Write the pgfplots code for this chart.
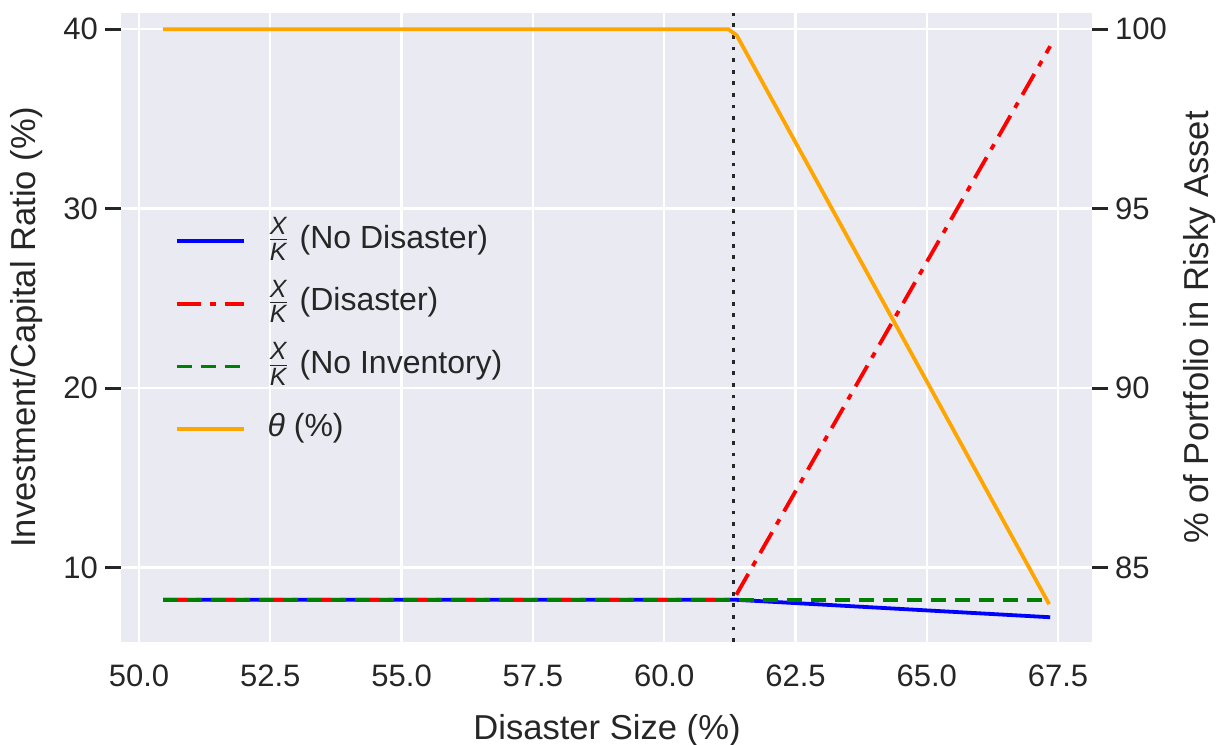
\documentclass[border=0pt]{standalone}
\usepackage{pgfplots}
\pgfplotsset{compat=1.18}
\usepackage{fontspec}
\setmainfont{Liberation Sans}
\definecolor{bg}{HTML}{EAEAF2}
\definecolor{txt}{HTML}{262626}
\definecolor{myorange}{RGB}{255,165,0}
\definecolor{mygreen}{RGB}{0,128,0}
\newcommand{\XK}{$\frac{\hbox{\fontsize{12.5}{12.5}\selectfont\itshape X}}{\hbox{\fontsize{12.5}{12.5}\selectfont\itshape K}}$\hspace{5.3pt}}

\pgfplotstableread{
x y
50.46 8.21
61.32 8.21
67.35 7.23
}\blue
\pgfplotstableread{
x y
50.46 8.21
61.32 8.21
67.35 39.05
}\red
\pgfplotstableread{
x y
50.46 8.21
61.32 8.21
67.35 8.21
}\green
\pgfplotstableread{
x y
50.46 100
61.22 100
61.38 99.83
67.33 83.98
}\orange

\begin{document}
\begin{tikzpicture}
\pgfplotsset{
  every axis/.append style={
    scale only axis, width=485.5pt, height=314.5pt,
    xmin=49.657, xmax=68.146,
    font=\fontsize{15.5}{18}\selectfont,
    /pgf/number format/assume math mode=true,
    tick label style={text=txt},
    axis line style={draw=none},
    tick align=outside,
    major tick length=8pt,
    ytick style={draw=txt, line width=1.5pt},
    xtick style={draw=none},
    clip=false,
  }
}
\begin{axis}[
  axis background/.style={fill=bg},
  ymin=5.85, ymax=40.9,
  ytick={10,20,30,40},
  xtick={50,52.5,55,57.5,60,62.5,65,67.5},
  xticklabel style={/pgf/number format/.cd, fixed, fixed zerofill, precision=1},
  grid=major,
  major grid style={white, line width=1.15pt},
  xlabel={Disaster Size (\%)},
  ylabel={Investment/Capital Ratio (\%)},
  every axis x label/.style={at={(axis description cs:0.5005,-0.14)}, anchor=center, font=\fontsize{17.3}{20}\selectfont, text=txt},
  every axis y label/.style={at={(axis description cs:-0.0968,0.5)}, rotate=90, anchor=center, font=\fontsize{17.3}{20}\selectfont, text=txt},
]
\coordinate (bl) at (rel axis cs:0,0);
\coordinate (tr) at (rel axis cs:1,1);
\addplot[blue, line width=1.9pt, line join=round] table[x=x,y=y]{\blue};
\addplot[red, line width=1.9pt, dash pattern=on 12pt off 4.5pt on 3pt off 4.5pt] table[x=x,y=y]{\red};
\addplot[mygreen, line width=1.9pt, dash pattern=on 7.5pt off 4.5pt] table[x=x,y=y]{\green};
\addplot[txt, line width=1.9pt, dash pattern=on 1.9pt off 3.9pt] coordinates {(61.32,5.85) (61.32,40.9)};
\end{axis}
\begin{axis}[
  axis y line*=right,
  axis x line=none,
  ymin=82.925, ymax=100.45,
  ytick={85,90,95,100},
  ylabel={\% of Portfolio in Risky Asset},
  every axis y label/.style={at={(axis description cs:1.111,0.5)}, rotate=90, anchor=center, font=\fontsize{17.3}{20}\selectfont, text=txt},
  legend cell align=left,
  legend style={at={(axis description cs:0.055,0.671)}, anchor=north west, draw=none, fill=none,
    font=\fontsize{16}{19}\selectfont, text=txt, inner sep=0pt, row sep=10.3pt,
    nodes={inner sep=0pt, text height=14pt, text depth=7pt},
    /tikz/every odd column/.append style={column sep=11pt}},
  legend image code/.code={\draw[#1] plot coordinates {(0pt,0pt) (33.5pt,0pt)};},
]
\addlegendimage{blue, line width=1.9pt}
\addlegendentry{\XK(No Disaster)}
\addlegendimage{red, line width=1.9pt, dash pattern=on 12pt off 4.5pt on 3pt off 4.5pt}
\addlegendentry{\XK(Disaster)}
\addlegendimage{mygreen, line width=1.9pt, dash pattern=on 7.5pt off 4.5pt}
\addlegendentry{\XK(No Inventory)}
\addplot[myorange, line width=1.9pt, line join=round] table[x=x,y=y]{\orange};
\addlegendentry{\textit{θ} (\%)}
\end{axis}
\pgfresetboundingbox
\path ([shift={(-60.5pt,-51pt)}]bl) rectangle ([shift={(65.5pt,6.5pt)}]tr);
\end{tikzpicture}
\end{document}
